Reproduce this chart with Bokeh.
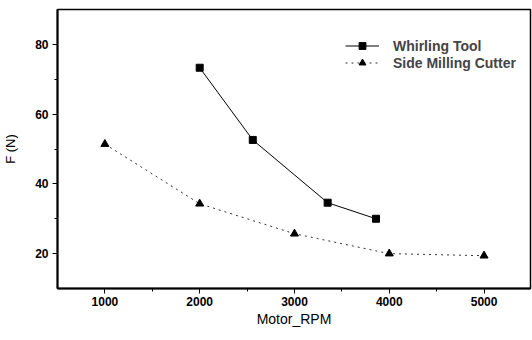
from bokeh.plotting import figure
from bokeh.embed import file_html
from bokeh.resources import INLINE
from bokeh.models import Legend, LegendItem, Range1d, FixedTicker

whirl_rpm = [2000, 2560, 3350, 3860]
whirl_f = [73.3, 52.6, 34.6, 30.0]
side_rpm = [1000, 2000, 3000, 4000, 5000]
side_f = [51.4, 34.3, 25.7, 20.0, 19.4]
x_ticks = [1000, 2000, 3000, 4000, 5000]
y_ticks = [20, 40, 60, 80]

p = figure(width=532, height=340, output_backend="svg", toolbar_location=None,
           x_range=Range1d(500, 5490), y_range=Range1d(10, 90),
           min_border_left=56, min_border_right=2, min_border_top=9, min_border_bottom=52)
p.background_fill_color = "white"
p.border_fill_color = "white"
p.outline_line_color = "black"
p.outline_line_width = 1.5
p.xgrid.visible = False
p.ygrid.visible = False

for ax in (p.xaxis[0], p.yaxis[0]):
    ax.axis_line_width = 2
    ax.axis_line_color = "black"
    ax.major_tick_line_color = "black"
    ax.minor_tick_line_color = "black"
    ax.major_tick_out = 5
    ax.major_tick_in = 0
    ax.minor_tick_out = 3
    ax.minor_tick_in = 0
    ax.major_label_text_font = "Liberation Sans"
    ax.major_label_text_font_style = "bold"
    ax.major_label_text_font_size = "12px"
    ax.axis_label_text_font = "Liberation Sans"
    ax.axis_label_text_font_style = "normal"
    ax.axis_label_text_color = "black"
    ax.major_label_text_color = "black"

p.xaxis.ticker = FixedTicker(ticks=x_ticks, minor_ticks=[1500, 2500, 3500, 4500])
p.yaxis.ticker = FixedTicker(ticks=y_ticks, minor_ticks=[30, 50, 70])
p.xaxis.axis_label = "Motor_RPM"
p.xaxis.axis_label_text_font_size = "14px"
p.xaxis.axis_label_standoff = 2
p.yaxis.axis_label = "F (N)"
p.yaxis.axis_label_text_font_size = "13px"
p.yaxis.axis_label_standoff = 14
p.yaxis.major_label_standoff = 4
p.xaxis.major_label_standoff = 3

wl = p.line(whirl_rpm, whirl_f, line_color="black", line_width=1)
ws = p.scatter(whirl_rpm, whirl_f, marker="square", size=7, fill_color="black", line_color="black")
sl = p.line(side_rpm, side_f, line_color="#333333", line_width=1, line_dash="2 4")
ss = p.scatter(side_rpm, side_f, marker="triangle", size=8, fill_color="black", line_color="black")

legend = Legend(items=[LegendItem(label="Whirling Tool", renderers=[wl, ws]),
                       LegendItem(label="Side Milling Cutter", renderers=[sl, ss])],
                location=(288, 217))
legend.border_line_color = None
legend.background_fill_alpha = 0
legend.padding = 0
legend.spacing = 0
legend.glyph_width = 34
legend.glyph_height = 17
legend.label_standoff = 14
legend.label_text_font = "Liberation Sans"
legend.label_text_font_size = "14px"
legend.label_text_font_style = "bold"
legend.label_height = 17
p.add_layout(legend, "center")

open("out.html", "w").write(file_html(p, INLINE))
